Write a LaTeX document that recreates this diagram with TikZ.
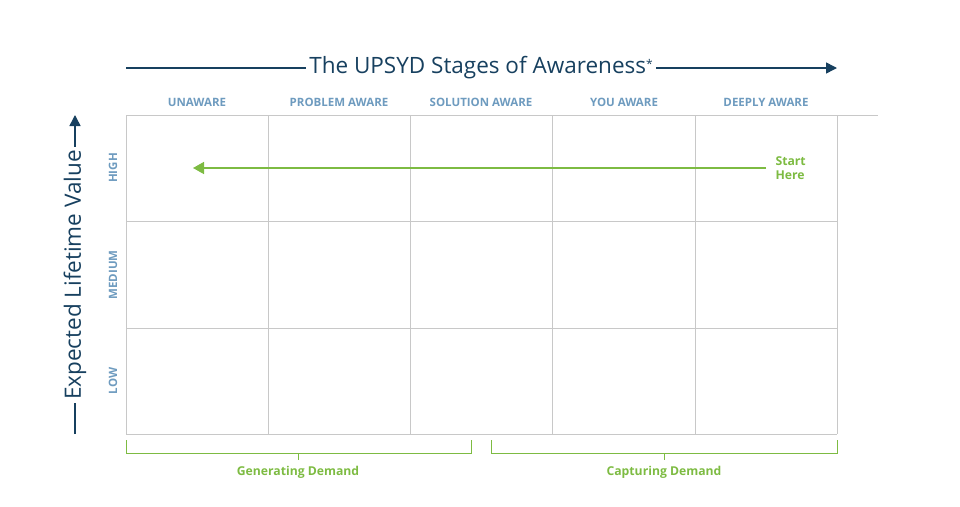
\documentclass[tikz,border=0pt]{standalone}
\usepackage{fontspec}
\setmainfont{Open Sans}
\usetikzlibrary{arrows.meta}
\definecolor{navy}{HTML}{17405F}
\definecolor{lbl}{HTML}{6E9BBF}
\definecolor{grn}{HTML}{7DBB42}
\definecolor{gridc}{HTML}{C8C8C8}
\tikzset{
 collbl/.style={text=lbl,font=\fontsize{11.5}{13}\selectfont\bfseries},
 grnlbl/.style={text=grn,font=\fontsize{12.2}{14}\selectfont\bfseries},
 gline/.style={draw=gridc,line width=0.8pt},
 brk/.style={draw=grn,line width=0.9pt},
 navyarrow/.style={draw=navy,line width=1.5pt,-{Triangle[length=11pt,width=11pt]}}
}
\begin{document}
\begin{tikzpicture}[x=1pt,y=-1pt]
\useasboundingbox (0,0) rectangle (960,506);
% grid
\draw[gline] (126,115) -- (878,115);
\foreach \y in {221,328,434} \draw[gline] (126,\y) -- (837,\y);
\foreach \x in {126,268,410,552,695,837} \draw[gline] (\x,115) -- (\x,434);
% title
\node[text=navy,font=\fontsize{22.5}{26}\selectfont] (title) at (481,68) {The UPSYD Stages of Awareness{\fontsize{12}{12}\selectfont\raisebox{5pt}{*}}};
\coordinate (tl) at (126,68);
\coordinate (tr) at (837,68);
\draw[draw=navy,line width=1.5pt] (tl) -- (title.west);
\draw[navyarrow] (title.east) -- (tr);
% column labels
\foreach \x/\t in {197/UNAWARE,339/PROBLEM AWARE,481/SOLUTION AWARE,624/YOU AWARE,766/DEEPLY AWARE}
  \node[collbl] at (\x,102) {\t};
% row labels
\foreach \y/\t in {168/HIGH,275/MEDIUM,381/LOW}
  \node[collbl,rotate=90] at (113,\y) {\t};
% y axis
\node[text=navy,font=\fontsize{22.5}{26}\selectfont,rotate=90] (ylab) at (75,275) {Expected Lifetime Value};
\coordinate (yb) at (75,434);
\coordinate (yt) at (75,115);
\draw[draw=navy,line width=1.5pt] (yb) -- (ylab.west);
\draw[navyarrow] (ylab.east) -- (yt);
% start here
\node[grnlbl,align=left,anchor=west] (start) at (772,168) {Start\\Here};
\coordinate (aend) at (193,168);
\draw[draw=grn,line width=1.5pt,-{Triangle[length=11pt,width=12pt]}] (766,168) -- (aend);
% brackets
\draw[brk] (126,440) -- (126,453) -- (471,453) -- (471,440);
\draw[brk] (298,453) -- (298,460);
\node[grnlbl] (gd) at (298,472) {Generating Demand};
\draw[brk] (491,440) -- (491,453) -- (837,453) -- (837,440);
\draw[brk] (664,453) -- (664,460);
\node[grnlbl] (cd) at (664,472) {Capturing Demand};
\end{tikzpicture}
\end{document}
